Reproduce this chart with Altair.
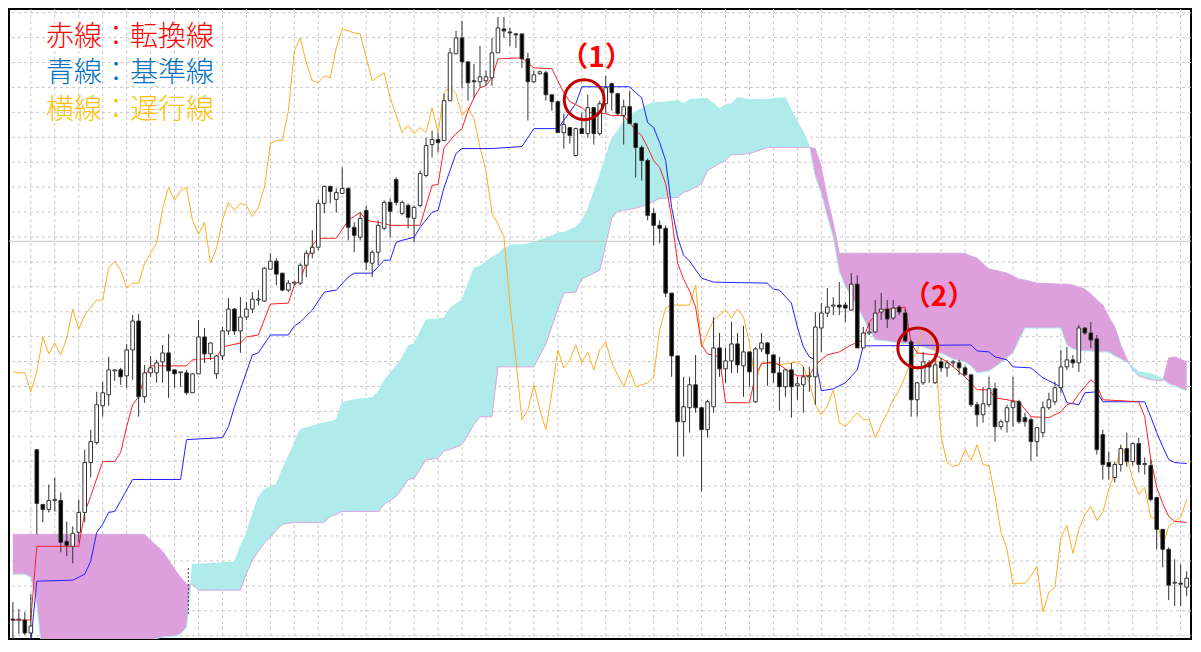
import altair as alt
import pandas as pd

# ---------------- data (price points, bar index) ----------------
OPEN = [1017,1016,1016,1003,1187,1132,1127,1136,1136,1095,
        1090,1104,1124,1174,1194,1231,1242,1266,1267,1261,
        1287,1316,1240,1264,1264,1275,1284,1267,1264,1264,
        1244,1263,1300,1283,1263,1281,1306,1328,1306,1320,
        1328,1337,1336,1368,1376,1364,1347,1354,1354,1372,
        1384,1390,1434,1451,1438,1444,1449,1410,1400,1427,
        1374,1385,1409,1435,1458,1424,1432,1419,1432,1462,
        1493,1498,1497,1537,1584,1600,1576,1557,1556,1557,
        1560,1585,1609,1606,1604,1604,1579,1556,1564,1565,
        1543,1536,1505,1510,1482,1509,1504,1530,1504,1534,
        1554,1544,1522,1531,1514,1490,1477,1424,1412,1409,
        1344,1281,1215,1229,1252,1229,1207,1230,1289,1268,
        1276,1293,1271,1285,1235,1288,1294,1282,1264,1250,
        1267,1251,1252,1260,1260,1309,1324,1331,1332,1332,
        1327,1353,1289,1304,1305,1325,1328,1319,1330,1324,
        1295,1237,1254,1274,1254,1275,1269,1274,1274,1269,
        1262,1232,1222,1232,1248,1210,1215,1229,1235,1219,
        1217,1195,1204,1229,1235,1249,1270,1277,1274,1309,
        1304,1298,1202,1174,1159,1172,1188,1175,1193,1172,
        1171,1139,1107,1087,1053,1053,1049]
HIGH = [1034,1027,1024,1042,1187,1132,1152,1159,1144,1115,
        1110,1137,1187,1207,1245,1255,1280,1267,1269,1293,
        1322,1323,1272,1281,1277,1292,1303,1267,1264,1267,
        1263,1317,1309,1294,1282,1310,1339,1329,1340,1335,
        1345,1347,1370,1384,1379,1364,1357,1356,1374,1387,
        1407,1438,1452,1452,1449,1470,1450,1415,1425,1432,
        1387,1417,1437,1439,1460,1437,1434,1432,1467,1500,
        1507,1505,1544,1590,1607,1617,1576,1574,1592,1567,
        1600,1621,1621,1610,1605,1604,1585,1567,1567,1567,
        1543,1537,1524,1510,1510,1525,1543,1531,1537,1562,
        1555,1545,1538,1547,1515,1492,1479,1429,1417,1412,
        1344,1281,1260,1260,1282,1230,1237,1320,1304,1289,
        1315,1304,1311,1285,1290,1304,1295,1282,1280,1267,
        1274,1260,1270,1270,1325,1334,1349,1340,1355,1335,
        1364,1362,1310,1314,1337,1344,1337,1337,1332,1328,
        1297,1255,1285,1277,1284,1279,1277,1277,1277,1271,
        1263,1235,1250,1260,1254,1217,1232,1260,1237,1224,
        1219,1209,1235,1244,1255,1287,1290,1282,1312,1310,
        1315,1302,1207,1185,1175,1192,1204,1194,1199,1179,
        1177,1139,1107,1089,1077,1072,1065]
LOW = [992,1002,1001,992,1102,1114,1124,1125,1084,1080,
       1073,1094,1114,1159,1192,1220,1231,1256,1252,1249,
       1257,1220,1234,1260,1254,1254,1239,1249,1250,1242,
       1244,1263,1274,1277,1258,1277,1302,1302,1284,1317,
       1324,1332,1335,1368,1352,1346,1345,1352,1352,1360,
       1379,1387,1424,1434,1425,1444,1397,1385,1397,1367,
       1360,1372,1407,1400,1432,1422,1409,1395,1430,1460,
       1480,1485,1497,1537,1584,1550,1537,1540,1550,1552,
       1552,1585,1600,1592,1590,1570,1517,1555,1563,1537,
       1527,1505,1489,1494,1481,1504,1500,1493,1502,1525,
       1527,1522,1493,1514,1460,1457,1417,1392,1394,1340,
       1260,1180,1180,1204,1224,1145,1199,1224,1260,1254,
       1264,1264,1240,1250,1234,1285,1251,1254,1226,1240,
       1219,1237,1224,1245,1232,1285,1320,1322,1322,1315,
       1326,1289,1289,1302,1304,1317,1309,1317,1322,1295,
       1220,1220,1252,1254,1253,1265,1260,1270,1262,1261,
       1230,1210,1214,1230,1195,1207,1204,1210,1213,1210,
       1175,1180,1199,1227,1232,1244,1267,1269,1265,1302,
       1289,1182,1157,1157,1154,1165,1170,1171,1164,1162,
       1135,1087,1069,1036,1030,1030,1040]
CLOSE = [1016,1017,1003,1010,1133,1127,1136,1137,1094,1091,
         1103,1124,1174,1195,1232,1244,1267,1267,1260,1287,
         1316,1240,1264,1269,1274,1284,1266,1263,1265,1244,
         1263,1300,1283,1294,1281,1306,1328,1306,1320,1328,
         1338,1338,1369,1376,1363,1347,1354,1355,1372,1384,
         1390,1434,1451,1446,1445,1449,1410,1402,1419,1375,
         1385,1412,1435,1426,1435,1435,1420,1430,1464,1492,
         1498,1495,1537,1585,1600,1576,1555,1556,1561,1561,
         1585,1610,1607,1605,1603,1579,1556,1563,1566,1543,
         1536,1505,1513,1502,1509,1504,1530,1504,1534,1550,
         1545,1524,1531,1514,1490,1477,1422,1412,1409,1344,
         1281,1215,1230,1252,1229,1207,1235,1289,1268,1276,
         1293,1272,1285,1265,1288,1294,1283,1264,1250,1267,
         1250,1253,1260,1261,1310,1324,1330,1332,1330,1329,
         1353,1289,1304,1305,1324,1328,1318,1329,1325,1296,
         1237,1254,1275,1270,1272,1269,1274,1275,1269,1262,
         1232,1222,1233,1248,1210,1215,1229,1235,1215,1215,
         1195,1209,1229,1237,1249,1270,1277,1274,1309,1304,
         1297,1187,1172,1170,1172,1188,1175,1193,1172,1173,
         1137,1107,1087,1051,1054,1052,1058]

TENKAN = [(0,1016),(3,1016),(4,1090),(11,1090),(12,1124),(13,1140),(14,1158),(15,1175),(17,1175),(18,1184),
          (19,1210),(20,1232),(21,1240),(22,1260),(23,1271),(29,1271),(30,1277),(34,1279),(35,1290),(38,1294),
          (39,1300),(41,1302),(43,1333),(46,1334),(47,1352),(48,1357),(50,1392),(51,1399),(54,1399),(56,1417),
          (58,1425),(59,1417),(62,1414),(63,1412),(68,1412),(70,1452),(71,1453),(72,1490),(73,1497),(74,1504),
          (75,1509),(76,1527),(77,1540),(78,1550),(79,1552),(80,1560),(81,1579),(85,1580),(86,1575),(87,1570),
          (90,1569),(91,1557),(92,1545),(93,1536),(94,1533),(95,1530),(96,1525),(97,1525),(99,1524),(100,1522),
          (102,1522),(103,1515),(104,1507),(105,1502),(106,1490),(107,1477),(108,1470),(109,1454),(110,1420),(111,1374),
          (112,1358),(113,1346),(114,1330),(115,1292),(116,1283),(118,1280),(119,1234),(123,1234),(124,1262),(125,1273),
          (127,1275),(128,1272),(130,1264),(131,1261),(133,1261),(134,1272),(136,1282),(138,1285),(140,1292),(142,1297),
          (143,1315),(145,1327),(149,1330),(150,1294),(151,1284),(154,1282),(156,1275),(157,1270),(159,1260),(161,1247),
          (163,1247),(164,1239),(166,1237),(168,1235),(170,1220),(173,1219),(175,1225),(176,1232),(177,1234),(178,1243),
          (180,1257),(181,1252),(182,1237),(188,1235),(189,1220),(190,1178),(191,1149),(192,1133),(193,1120),(194,1115),
          (196,1114)]

KIJUN = [(3,994),(4,1055),(10,1056),(12,1062),(13,1075),(14,1104),(15,1112),(16,1124),(17,1125),(20,1157),
         (28,1157),(29,1197),(35,1199),(36,1210),(37,1230),(40,1282),(41,1284),(43,1302),(46,1302),(47,1311),
         (48,1315),(50,1327),(52,1345),(54,1347),(56,1360),(57,1364),(60,1364),(62,1377),(63,1377),(64,1395),
         (65,1397),(67,1400),(68,1410),(70,1425),(71,1427),(72,1450),(74,1484),(75,1489),(80,1489),(85,1491),
         (87,1509),(91,1509),(94,1534),(95,1551),(103,1551),(104,1545),(105,1540),(106,1515),(107,1510),(108,1495),
         (109,1477),(110,1430),(111,1400),(112,1382),(113,1376),(115,1359),(117,1355),(126,1354),(127,1348),(128,1347),
         (130,1334),(131,1310),(132,1290),(133,1280),(134,1277),(135,1246),(137,1248),(139,1254),(141,1267),(142,1291),
         (160,1292),(161,1286),(163,1285),(164,1280),(166,1277),(167,1270),(170,1269),(172,1259),(175,1250),(176,1234),
         (178,1232),(179,1244),(181,1245),(182,1235),(189,1235),(190,1220),(191,1204),(192,1190),(193,1177),(194,1174),
         (196,1173)]

CHIKOU = [(0,1265),(1,1264),(2,1264),(3,1245),(4,1265),(5,1300),(6,1283),(7,1294),(8,1282),(9,1299),
          (10,1328),(11,1308),(12,1322),(14,1337),(15,1337),(16,1369),(17,1376),(18,1367),(19,1349),(20,1354),
          (21,1354),(22,1374),(23,1384),(24,1394),(25,1429),(26,1450),(27,1437),(28,1447),(29,1450),(30,1417),
          (31,1403),(32,1415),(33,1374),(34,1389),(35,1417),(36,1435),(37,1427),(38,1434),(39,1432),(40,1421),
          (41,1430),(42,1450),(43,1494),(44,1497),(45,1497),(46,1527),(47,1587),(48,1600),(49,1575),(50,1557),
          (51,1555),(52,1562),(53,1560),(54,1590),(55,1609),(56,1607),(57,1605),(58,1604),(60,1557),(62,1565),
          (63,1540),(65,1505),(66,1512),(67,1504),(68,1510),(69,1505),(70,1530),(71,1505),(72,1545),(73,1551),
          (74,1544),(75,1522),(76,1530),(77,1519),(78,1490),(79,1467),(80,1424),(81,1413),(82,1400),(83,1334),
          (84,1277),(85,1217),(86,1227),(87,1252),(88,1227),(89,1207),(90,1244),(91,1287),(92,1269),(93,1277),
          (94,1292),(95,1274),(96,1285),(97,1267),(98,1287),(99,1295),(100,1274),(101,1262),(102,1250),(103,1267),
          (104,1250),(105,1252),(106,1254),(107,1260),(108,1307),(109,1329),(110,1332),(113,1332),(114,1352),(115,1290),
          (116,1304),(117,1317),(119,1327),(120,1319),(121,1328),(122,1320),(123,1294),(124,1254),(125,1274),(126,1274),
          (128,1272),(130,1274),(131,1275),(132,1270),(133,1254),(134,1232),(135,1222),(136,1231),(137,1247),(138,1214),
          (139,1210),(140,1217),(141,1224),(142,1217),(143,1217),(144,1199),(145,1212),(146,1224),(147,1237),(148,1247),
          (149,1260),(150,1277),(151,1284),(152,1310),(153,1304),(154,1290),(155,1200),(156,1174),(157,1170),(158,1172),
          (159,1187),(160,1176),(161,1192),(162,1172),(163,1171),(164,1140),(165,1104),(166,1087),(167,1052),(168,1053),
          (169,1053),(170,1060),(171,1070),(172,1024),(173,1044),(174,1049),(175,1099),(176,1111),(177,1083),(178,1107),
          (179,1122),(180,1130),(181,1116),(182,1124),(183,1147),(184,1164),(185,1190),(186,1180),(187,1157),(188,1142),
          (189,1149),(190,1119),(191,1118),(192,1090),(193,1110),(194,1115),(195,1119),(196,1137)]

# (bar, senkou span A, senkou span B)
CLOUD = [(0,1062,1102),(2,1062,1102),(3,1059,1102),(4,1032,1102),(5,977,1102),(22,977,1102),(23,996,1096),
         (25,999,1085),(27,1000,1067),(28,1002,1059),(29,1009,1052),(29.7,1052,1052),(30,1072,1052),(31,1072,1046),
         (37,1074,1046),(38,1090,1046),(39,1103,1063),(40,1122,1076),(41,1139,1085),(42,1147,1093),(44,1152,1106),
         (45,1167,1112),(47,1193,1114),(48,1207,1114),(52,1214,1114),(53,1215,1120),(54,1217,1122),(55,1234,1125),
         (57,1237,1125),(60,1239,1125),(61,1245,1125),(62,1256,1132),(64,1271,1140),(65,1279,1148),(66,1291,1157),
         (67,1293,1158),(69,1317,1177),(71,1318,1178),(72,1319,1186),(73,1329,1187),(75,1337,1192),(77,1369,1212),
         (78,1371,1220),(80,1380,1220),(81,1383,1270),(82,1389,1270),(84,1393,1270),(85,1392,1270),(87,1395,1270),
         (89,1399,1293),(91,1404,1328),(92,1405,1344),(94,1410,1345),(95,1416,1358),(96,1428,1361),(98,1462,1367),
         (100,1499,1419),(101,1507,1426),(102,1516,1427),(104,1526,1429),(105,1529,1431),(106,1533,1433),(107,1535,1436),
         (108,1535,1439),(111,1537,1440),(112,1534,1445),(113,1538,1447),(115,1539,1454),(116,1539,1467),(118,1529,1474),
         (119,1533,1477),(120,1534,1483),(121,1540,1483),(123,1538,1484),(126,1538,1490),(127,1539,1490),(129,1540,1490),
         (130,1527,1490),(132,1505,1490),(133,1491,1490),(133.05,1490,1490),(134,1461,1489),(135,1444,1470),(136,1421,1439),
         (137,1400,1414),(138,1366,1384),(139,1351,1384),(140,1340,1384),(141,1331,1384),(142,1319,1384),(144,1297,1384),
         (146,1296,1384),(148,1294,1384),(151,1292,1384),(155,1284,1384),(157,1278,1384),(159,1275,1384),(160,1271,1381),
         (161,1264,1379),(163,1266,1368),(164,1270,1367),(166,1279,1364),(167,1284,1361),(168,1297,1358),(169,1309,1357),
         (171,1309,1354),(175,1309,1353),(176,1292,1353),(177,1288,1352),(179,1286,1348),(180,1286,1343),(181,1285,1337),
         (182,1285,1332),(183,1285,1320),(184,1281,1310),(185,1278,1292),(186,1275,1278),(186.5,1272.5,1272.5),
         (187,1270,1267),(188,1265,1261),(190,1263,1257),(192,1258,1256),(192.1,1257.5,1257.5),(193,1253,1279),
         (194,1251,1280),(196,1246,1275)]

TWIST = [(29.3, 1022, 1070)]
LEVEL = [1396]
GRID_X = list(range(3, 197, 4))
GRID_Y = [1000.3 + 25 * k for k in range(26)]

LEGEND = [("赤線：転換線", "#FF0000"), ("青線：基準線", "#0070C0"), ("横線：遅行線", "#FFC000")]
NOTES = [("（1）", 97.46, 1578.5), ("（2）", 154.65, 1339.5)]
CIRCLES = [(95.4, 1538), (151.1, 1289)]

# ---------------- styling ----------------
W, H = 1184, 632
X_DOMAIN = [0.19, 195.89]
Y_DOMAIN = [997, 1629]
CYAN = "#AFEBEB"
PLUM = "#DDA0DD"
GRID_C = "#C8C8C8"

xsc = alt.Scale(domain=X_DOMAIN, nice=False, zero=False)
ysc = alt.Scale(domain=Y_DOMAIN, nice=False, zero=False)


def XQ(f="bar"):
    return alt.X(f"{f}:Q", scale=xsc, axis=None)


def YQ(f):
    return alt.Y(f"{f}:Q", scale=ysc, axis=None)


candles = pd.DataFrame({"bar": list(range(len(OPEN))), "open": OPEN, "high": HIGH,
                        "low": LOW, "close": CLOSE})
cloud = pd.DataFrame(CLOUD, columns=["bar", "A", "B"])
tenkan = pd.DataFrame(TENKAN, columns=["bar", "v"])
kijun = pd.DataFrame(KIJUN, columns=["bar", "v"])
chikou = pd.DataFrame(CHIKOU, columns=["bar", "v"])

layers = []

layers.append(alt.Chart(pd.DataFrame({"bar": GRID_X})).mark_rule(
    color=GRID_C, strokeDash=[3, 3], strokeWidth=1).encode(x=XQ()))
layers.append(alt.Chart(pd.DataFrame({"v": GRID_Y})).mark_rule(
    color=GRID_C, strokeDash=[3, 3], strokeWidth=1).encode(y=YQ("v")))

layers.append(alt.Chart(cloud).transform_calculate(top="max(datum.A, datum.B)").mark_area(
    color=CYAN, opacity=1, clip=True).encode(x=XQ(), y=YQ("top"), y2=alt.Y2("B:Q")))
layers.append(alt.Chart(cloud).transform_calculate(top="max(datum.A, datum.B)").mark_area(
    color=PLUM, opacity=1, clip=True).encode(x=XQ(), y=YQ("top"), y2=alt.Y2("A:Q")))
layers.append(alt.Chart(cloud).mark_line(color="#D9A6E2", strokeWidth=1, clip=True).encode(
    x=XQ(), y=YQ("B")))
layers.append(alt.Chart(cloud).mark_line(color="#A6ECEC", strokeWidth=1, clip=True).encode(
    x=XQ(), y=YQ("A")))
layers.append(alt.Chart(pd.DataFrame(TWIST, columns=["bar", "lo", "hi"])).mark_rule(
    color="#444444", strokeDash=[2, 2], strokeWidth=1).encode(x=XQ(), y=YQ("lo"), y2=alt.Y2("hi:Q")))

layers.append(alt.Chart(pd.DataFrame({"v": LEVEL})).mark_rule(
    color="#C4C4C4", strokeWidth=1).encode(y=YQ("v")))

layers.append(alt.Chart(chikou).mark_line(color="#FFAE22", strokeWidth=1, clip=True).encode(
    x=XQ(), y=YQ("v")))
layers.append(alt.Chart(kijun).mark_line(color="#2222FF", strokeWidth=1, clip=True).encode(
    x=XQ(), y=YQ("v")))
layers.append(alt.Chart(tenkan).mark_line(color="#FF2020", strokeWidth=1, clip=True).encode(
    x=XQ(), y=YQ("v")))

layers.append(alt.Chart(candles).mark_rule(color="#333333", strokeWidth=1, clip=True).encode(
    x=XQ(), y=YQ("low"), y2=alt.Y2("high:Q")))
layers.append(alt.Chart(candles).mark_bar(size=3.6, stroke="#333333", strokeWidth=1, clip=True).encode(
    x=XQ(), y=YQ("open"), y2=alt.Y2("close:Q"),
    fill=alt.condition("datum.close >= datum.open", alt.value("#FFFFFF"), alt.value("#000000"))))

layers.append(alt.Chart(pd.DataFrame(CIRCLES, columns=["bar", "v"])).mark_point(
    shape="circle", filled=False, size=1590, stroke="#C00000", strokeWidth=3, opacity=1).encode(
    x=XQ(), y=YQ("v")))
layers.append(alt.Chart(pd.DataFrame(NOTES, columns=["t", "bar", "v"])).mark_text(
    font="Noto Sans CJK JP", fontSize=28, fontWeight="bold", color="#FF0000",
    align="center", baseline="middle").encode(x=XQ(), y=YQ("v"), text="t:N"))

for k, (txt, col) in enumerate(LEGEND):
    layers.append(alt.Chart(pd.DataFrame({"t": [txt]})).mark_text(
        font="Noto Sans CJK JP", fontSize=28, fontWeight=300, color=col,
        align="left", baseline="middle").encode(
        x=alt.value(37), y=alt.value(28.7 + 36.4 * k), text="t:N"))

chart = alt.layer(*layers).properties(
    width=W, height=H, padding=0,
    autosize=alt.AutoSizeParams(type="fit", contains="padding"),
    background="white",
).configure_view(stroke="#000000", strokeWidth=2)

chart.save("out.html", embed_options={"renderer": "svg", "actions": False})
